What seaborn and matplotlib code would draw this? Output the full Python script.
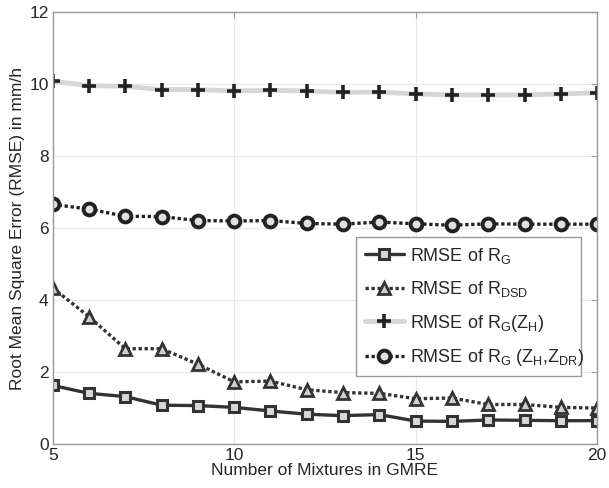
import numpy as np
import pandas as pd
import matplotlib
matplotlib.use("Agg")
import matplotlib.pyplot as plt
import seaborn as sns
from matplotlib.lines import Line2D

# Valeurs
mixtures = list(range(5, 21))
rmse_rg = [1.63, 1.41, 1.32, 1.08, 1.07, 1.02, 0.92, 0.83, 0.79, 0.82, 0.64, 0.63, 0.67, 0.66, 0.65, 0.65]
rmse_dsd = [4.34, 3.54, 2.65, 2.65, 2.22, 1.73, 1.75, 1.51, 1.43, 1.41, 1.26, 1.28, 1.10, 1.10, 1.02, 1.00]
rmse_zh = [10.08, 9.96, 9.94, 9.85, 9.85, 9.81, 9.83, 9.81, 9.77, 9.78, 9.73, 9.70, 9.70, 9.70, 9.73, 9.76]
rmse_zdr = [6.66, 6.53, 6.33, 6.32, 6.21, 6.20, 6.21, 6.13, 6.11, 6.17, 6.12, 6.08, 6.12, 6.11, 6.11, 6.11]

labels = [
    r"RMSE of R$_\mathregular{G}$",
    r"RMSE of R$_\mathregular{DSD}$",
    r"RMSE of R$_\mathregular{G}$(Z$_\mathregular{H}$)",
    r"RMSE of R$_\mathregular{G}$ (Z$_\mathregular{H}$,Z$_\mathregular{DR}$)",
]

sns.set_style("whitegrid", {"grid.color": "#e8e8e8", "axes.edgecolor": "#999999"})
plt.rcParams["font.family"] = ["Liberation Sans", "DejaVu Sans"]
plt.rcParams["mathtext.fontset"] = "custom"
plt.rcParams["mathtext.rm"] = "Liberation Sans"

fig = plt.figure(figsize=(6.09, 4.88), dpi=100)
ax = fig.add_axes([0.0865, 0.09, 0.894, 0.885])

dot = (0, (1, 0.8))

sns.lineplot(x=mixtures, y=rmse_rg, ax=ax, color="#333333", lw=2.4, ls="-",
             marker="s", markersize=7, markerfacecolor="#d8d8d8",
             markeredgecolor="#333333", markeredgewidth=2.2, label=labels[0])
sns.lineplot(x=mixtures, y=rmse_dsd, ax=ax, color="#333333", lw=2.4, ls=dot,
             marker="^", markersize=9, markerfacecolor="#d0d0d0",
             markeredgecolor="#333333", markeredgewidth=2.0, label=labels[1])
sns.lineplot(x=mixtures, y=rmse_zh, ax=ax, color="#d6d6d6", lw=3.5, ls="-", label=None)
ax.plot(mixtures, rmse_zh, ls="none", marker="+", markersize=10,
        markeredgewidth=2.6, color="#222222")
sns.lineplot(x=mixtures, y=rmse_zdr, ax=ax, color="#222222", lw=2.4, ls=dot,
             marker="o", markersize=8.5, markerfacecolor="#e0e0e0",
             markeredgecolor="#222222", markeredgewidth=2.8, label=labels[3])

# legende avec le style de la courbe Z_H
handles, _ = ax.get_legend_handles_labels()
zh_handle = Line2D([], [], color="#d6d6d6", lw=3.5, marker="+", markersize=10,
                   markeredgewidth=2.6, markeredgecolor="#222222")
handles = [handles[0], handles[1], zh_handle, handles[2]]
leg = ax.legend(handles, labels, loc="lower left", bbox_to_anchor=(0.558, 0.157, 0.413, 0.331),
                mode="expand", fontsize=13, frameon=True, fancybox=False,
                edgecolor="#999999", framealpha=1, handlelength=2.2, handletextpad=0.3,
                labelspacing=0.75, borderpad=0.45, borderaxespad=0)
leg.get_frame().set_linewidth(1.0)

ax.set_xlim(5, 20)
ax.set_ylim(0, 12)
ax.set_xticks([5, 10, 15, 20])
ax.set_yticks([0, 2, 4, 6, 8, 10, 12])
ax.tick_params(labelsize=12.5, direction="in", length=4, top=True, right=True, color="#999999",
               pad=3)
ax.set_xlabel("Number of Mixtures in GMRE", fontsize=12.5, labelpad=0)
ax.set_ylabel("Root Mean Square Error (RMSE) in mm/h", fontsize=12.5, labelpad=3)
for s in ax.spines.values():
    s.set_linewidth(1.0)

plt.savefig("out.png", dpi=100)
